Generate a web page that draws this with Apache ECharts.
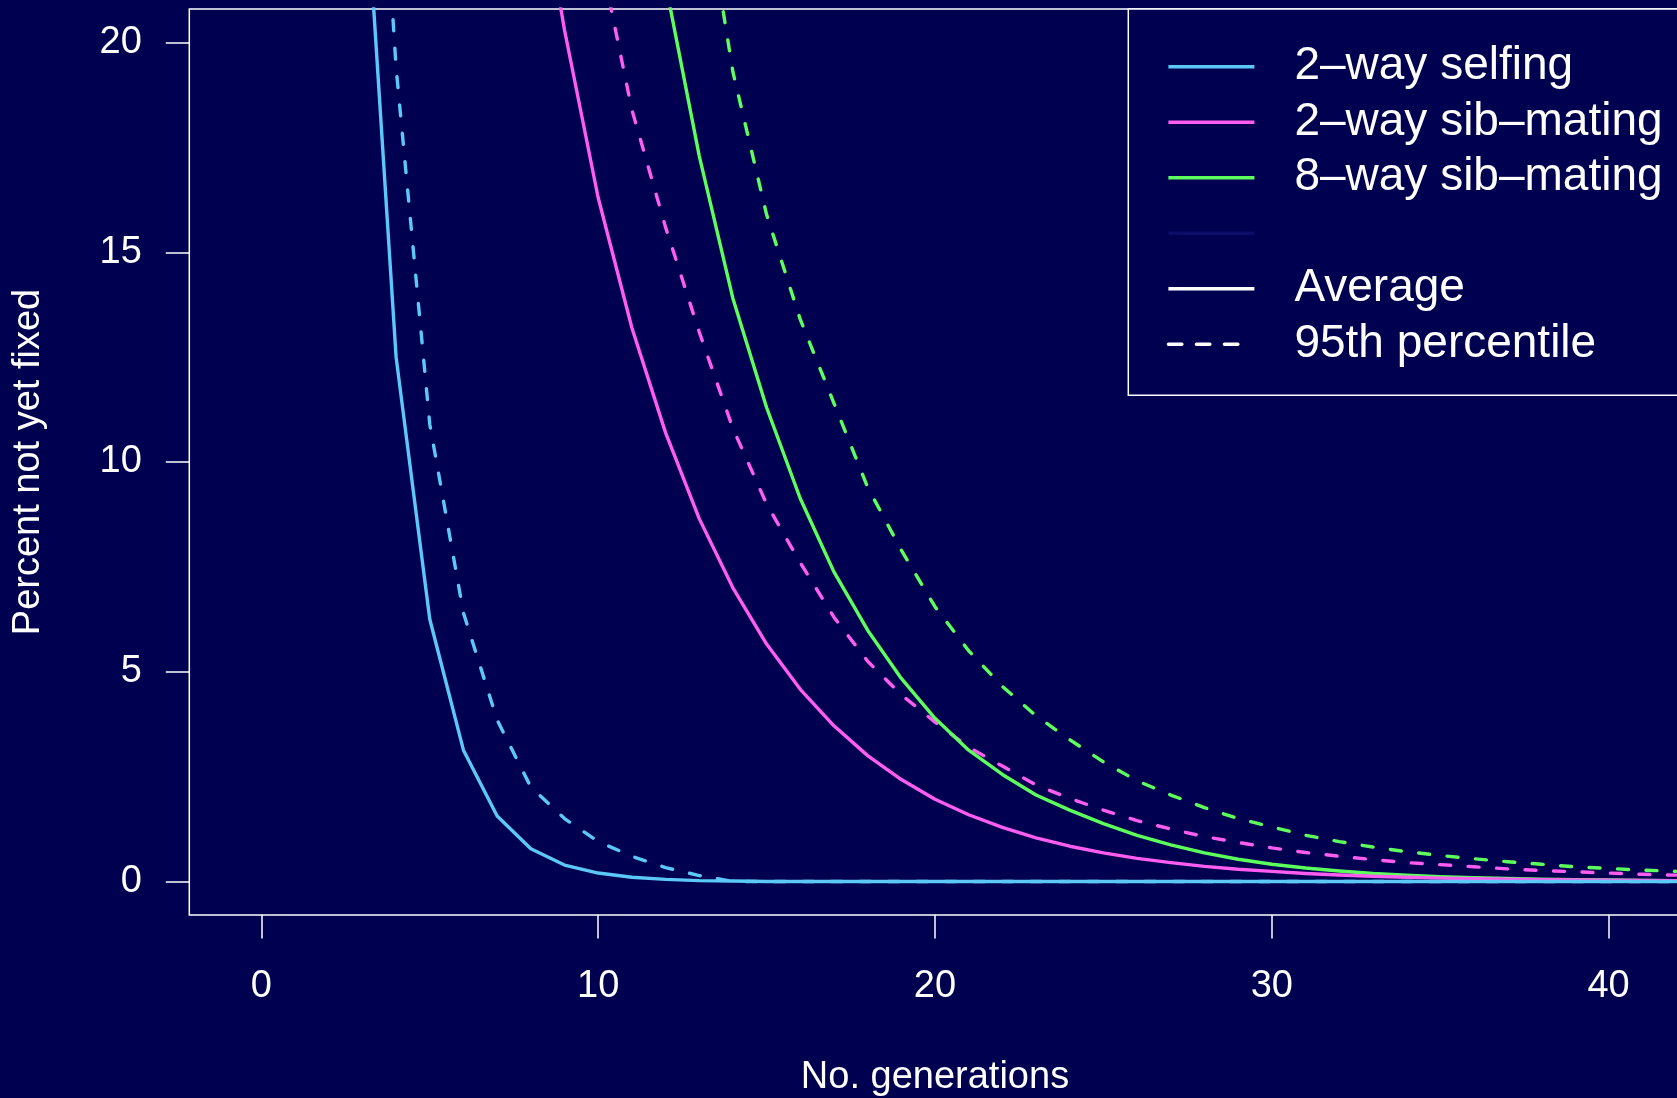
<!DOCTYPE html>
<html>
<head>
<meta charset="utf-8">
<title>Percent not yet fixed by generation</title>
<script src="https://cdn.jsdelivr.net/npm/echarts@6/dist/echarts.min.js"></script>
<style>
  html, body { margin: 0; padding: 0; background: #000050; }
  #chart { width: 1677px; height: 1098px; }
</style>
</head>
<body>
<div id="chart"></div>
<script>
// Generation number for every point of every curve
const generations = [1, 2, 3, 4, 5, 6, 7, 8, 9, 10, 11, 12, 13, 14, 15, 16, 17, 18, 19, 20,
  21, 22, 23, 24, 25, 26, 27, 28, 29, 30, 31, 32, 33, 34, 35, 36, 37, 38, 39, 40, 41, 42];

// 2-way selfing: average and 95th percentile of percent not yet fixed
const selfingAvg = [100, 50, 25, 12.5, 6.25, 3.13, 1.56, 0.78, 0.39, 0.2, 0.1, 0.05, 0.02, 0.01,
  0, 0, 0, 0, 0, 0, 0, 0, 0, 0, 0, 0, 0, 0, 0, 0, 0, 0, 0, 0, 0, 0, 0, 0, 0, 0, 0, 0];
const selfingP95 = [100, 60, 32, 19.4, 10.9, 6.4, 3.85, 2.25, 1.5, 0.95, 0.6, 0.33, 0.14, 0,
  0, 0, 0, 0, 0, 0, 0, 0, 0, 0, 0, 0, 0, 0, 0, 0, 0, 0, 0, 0, 0, 0, 0, 0, 0, 0, 0, 0];

// 2-way sib-mating
const sib2Avg = [100, 100, 75, 62.5, 50, 40.6, 32.8, 25.0, 20.3, 16.3, 13.2, 10.7, 8.65, 7.0,
  5.66, 4.58, 3.71, 3.0, 2.43, 1.96, 1.59, 1.29, 1.04, 0.84, 0.68, 0.55, 0.45, 0.36, 0.29, 0.24,
  0.19, 0.155, 0.125, 0.1, 0.08, 0.066, 0.053, 0.043, 0.035, 0.028, 0.023, 0.018];
const sib2P95 = [100, 100, 100, 90, 75, 60, 46, 36, 28, 22.3, 18.4, 15.6, 13.1, 10.8,
  9.0, 7.6, 6.3, 5.25, 4.45, 3.8, 3.2, 2.75, 2.3, 1.98, 1.7, 1.45, 1.25, 1.07, 0.93, 0.8,
  0.69, 0.6, 0.52, 0.45, 0.4, 0.35, 0.3, 0.26, 0.23, 0.2, 0.17, 0.15];

// 8-way sib-mating
const sib8Avg = [100, 100, 100, 100, 95, 85, 72, 60, 48, 38, 29.5, 21.4, 17.3, 13.9,
  11.3, 9.13, 7.38, 5.99, 4.84, 3.89, 3.13, 2.55, 2.06, 1.7, 1.38, 1.1, 0.87, 0.68, 0.53, 0.41,
  0.32, 0.25, 0.19, 0.15, 0.115, 0.09, 0.07, 0.055, 0.043, 0.033, 0.026, 0.02];
const sib8P95 = [100, 100, 100, 100, 100, 100, 95, 85, 70, 55, 42, 30, 24.3, 19.3,
  15.9, 13.4, 11.4, 9.4, 7.9, 6.55, 5.5, 4.65, 3.95, 3.38, 2.85, 2.4, 2.06, 1.76, 1.5, 1.3,
  1.1, 0.95, 0.82, 0.71, 0.62, 0.54, 0.47, 0.41, 0.35, 0.31, 0.27, 0.24];

// Tick positions and legend labels
const xTicks = [0, 10, 20, 30, 40];
const yTicks = [0, 5, 10, 15, 20];
const crossNames = ['2–way selfing', '2–way sib–mating', '8–way sib–mating'];
const blankName = ' ';
const styleNames = ['Average', '95th percentile'];

const BG = '#000050';
const FG = '#ffffff';
const COLORS = ['#5bc8f8', '#ff5cf0', '#5cff5c'];
const BLANK_COLOR = '#0b0b68';
const FONT = '"Liberation Sans", Arial, Helvetica, sans-serif';
const LINE_W = 3.4;
const DASH = [11, 17.5];

function curve(name, values, color, dashed, z) {
  return {
    type: 'line',
    name: name,
    data: generations.map((g, i) => [g, values[i]]),
    symbol: 'none',
    showSymbol: false,
    clip: true,
    silent: true,
    z: z,
    itemStyle: { color: color },
    lineStyle: { color: color, width: LINE_W, type: dashed ? DASH : 'solid', cap: 'round', join: 'round' },
    emphasis: { disabled: true }
  };
}

function keyOnly(name, color, dashed) {
  return {
    type: 'line',
    name: name,
    data: [],
    symbol: 'none',
    itemStyle: { color: color },
    lineStyle: { color: color, width: LINE_W, type: dashed ? DASH : 'solid' }
  };
}

const series = [
  curve(crossNames[0], selfingAvg, COLORS[0], false, 6),
  curve(crossNames[1], sib2Avg, COLORS[1], false, 5),
  curve(crossNames[2], sib8Avg, COLORS[2], false, 4),
  curve(crossNames[0], selfingP95, COLORS[0], true, 3),
  curve(crossNames[1], sib2P95, COLORS[1], true, 2),
  curve(crossNames[2], sib8P95, COLORS[2], true, 1),
  keyOnly(blankName, BLANK_COLOR, false),
  keyOnly(styleNames[0], FG, false),
  keyOnly(styleNames[1], FG, true)
];

const legendSolid = (c) => ({ color: c, width: 3.4, type: 'solid', cap: 'butt' });
const legendDash = { color: FG, width: 3.4, type: [13.5, 14.5, 13.5, 14.5, 13.5, 40], cap: 'round' };

const chart = echarts.init(document.getElementById('chart'), null, { renderer: 'canvas' });
chart.setOption({
  animation: false,
  backgroundColor: BG,
  textStyle: { fontFamily: FONT },
  grid: {
    left: 189.3, top: 9, right: -3.7, bottom: 183,
    show: true, borderColor: FG, borderWidth: 1.5, backgroundColor: 'transparent',
    containLabel: false, outerBoundsMode: 'none'
  },
  xAxis: {
    type: 'value', min: -2.14, max: 42.14,
    axisLine: { show: false, onZero: false },
    splitLine: { show: false },
    axisTick: { show: true, customValues: xTicks, length: 23.5, lineStyle: { color: FG, width: 1.5 } },
    axisLabel: { customValues: xTicks, color: FG, fontSize: 38, fontFamily: FONT, margin: 53 },
    name: 'No. generations', nameLocation: 'middle', nameGap: 144,
    nameTextStyle: { color: FG, fontSize: 38, fontFamily: FONT }
  },
  yAxis: {
    type: 'value', min: -0.8, max: 20.8,
    axisLine: { show: false, onZero: false },
    splitLine: { show: false },
    axisTick: { show: true, customValues: yTicks, length: 23.5, lineStyle: { color: FG, width: 1.5 } },
    axisLabel: { customValues: yTicks, color: FG, fontSize: 38, fontFamily: FONT, margin: 47.5, padding: [8, 0, 0, 0] },
    name: 'Percent not yet fixed', nameLocation: 'middle', nameGap: 141.7,
    nameTextStyle: { color: FG, fontSize: 38, fontFamily: FONT }
  },
  legend: {
    orient: 'vertical',
    left: 1128.3, top: 9,
    padding: [32.8, 40, 26, 38.4],
    itemGap: 5.5,
    itemWidth: 86, itemHeight: 14,
    borderColor: FG, borderWidth: 1.5,
    backgroundColor: BG,
    selectedMode: false,
    itemStyle: { opacity: 0 },
    textStyle: { color: FG, fontSize: 46, lineHeight: 46, fontFamily: FONT, padding: [4, 0, 0, 35] },
    data: [
      { name: crossNames[0], lineStyle: legendSolid(COLORS[0]) },
      { name: crossNames[1], lineStyle: legendSolid(COLORS[1]) },
      { name: crossNames[2], lineStyle: legendSolid(COLORS[2]) },
      { name: blankName, lineStyle: legendSolid(BLANK_COLOR) },
      { name: styleNames[0], lineStyle: legendSolid(FG) },
      { name: styleNames[1], lineStyle: legendDash }
    ]
  },
  series: series
});
</script>
</body>
</html>
